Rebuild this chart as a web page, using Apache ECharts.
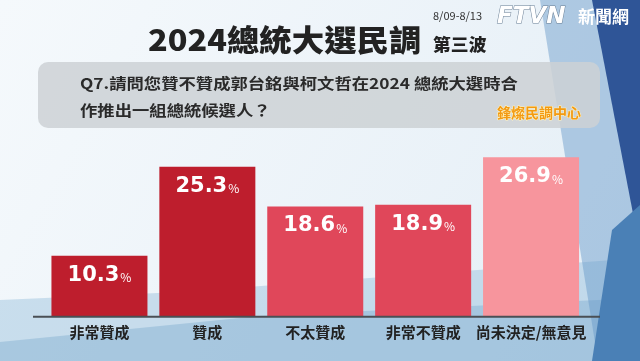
<!DOCTYPE html>
<html><head><meta charset="utf-8">
<script src="https://cdn.jsdelivr.net/npm/echarts@6/dist/echarts.min.js"></script>
<style>html,body{margin:0;padding:0;background:#eef4f9}#main{width:640px;height:361px}</style>
</head><body><div id="main"></div>
<script>
const categories = ['非常贊成', '贊成', '不太贊成', '非常不贊成', '尚未決定/無意見'];
const values = [10.3, 25.3, 18.6, 18.9, 26.9];
const barColors = ['#be1e2d', '#be1e2d', '#e0475a', '#e0475a', '#f7959d'];
const titleText = '2024總統大選民調';
const dateText = '8/09-8/13';
const waveText = '第三波';
const questionLines = ['Q7.請問您贊不贊成郭台銘與柯文哲在2024 總統大選時合', '作推出一組總統候選人？'];
const sourceText = '鋒燦民調中心';

const CJK = '"Noto Sans CJK TC","Noto Sans CJK SC",sans-serif';
const chart = echarts.init(document.getElementById('main'), null, {renderer: 'canvas'});

const bg = [
  {type: 'rect', z: -10, shape: {x: 0, y: 0, width: 640, height: 361},
   style: {fill: new echarts.graphic.LinearGradient(0, 0, 1, 1, [{offset: 0, color: '#f5f9fc'}, {offset: 1, color: '#e4eef6'}])}},
  {type: 'polygon', z: -9, shape: {points: [[0, 300], [180, 292], [640, 258], [640, 361], [0, 361]]}, style: {fill: 'rgba(150,190,220,0.45)'}},
  {type: 'polygon', z: -9, shape: {points: [[0, 342], [260, 316], [640, 298], [640, 361], [0, 361]]}, style: {fill: 'rgba(110,160,200,0.35)'}},
  {type: 'polygon', z: -8, shape: {points: [[540, 0], [640, 0], [640, 361], [598, 361]]}, style: {fill: 'rgba(100,150,200,0.45)'}},
  {type: 'polygon', z: -7, shape: {points: [[592, 0], [640, 0], [640, 250]]}, style: {fill: '#2f5597'}},
  {type: 'polygon', z: -7, shape: {points: [[612, 230], [640, 205], [640, 361], [592, 361]]}, style: {fill: '#4a80b6'}},
  {type: 'rect', z: -5, shape: {x: 38, y: 62, width: 562, height: 66, r: 10}, style: {fill: 'rgba(205,209,213,0.85)'}}
];

const texts = [
  {type: 'text', x: 148, y: 40, scaleX: 1.08, style: {text: titleText, font: '900 30px ' + CJK, fill: '#222', verticalAlign: 'middle', align: 'left'}},
  {type: 'text', x: 433, y: 16, style: {text: dateText, font: '11px ' + CJK, fill: '#333', verticalAlign: 'middle'}},
  {type: 'text', x: 433, y: 45, scaleX: 1.05, style: {text: waveText, font: '900 17px ' + CJK, fill: '#222', verticalAlign: 'middle'}},
  {type: 'text', x: 497, y: 17, style: {text: 'FTVN', font: 'italic bold 23px "DejaVu Sans",sans-serif', fill: '#ffffff', stroke: '#6a7f95', lineWidth: 1, verticalAlign: 'middle'}},
  {type: 'text', x: 578, y: 17, style: {text: '新聞網', font: 'bold 17px ' + CJK, fill: '#ffffff', verticalAlign: 'middle'}},
  {type: 'text', x: 80, y: 83, scaleX: 1.155, style: {text: questionLines[0], font: 'bold 15px ' + CJK, fill: '#2a2a2a', verticalAlign: 'middle'}},
  {type: 'text', x: 80, y: 110, scaleX: 1.155, style: {text: questionLines[1], font: 'bold 15px ' + CJK, fill: '#2a2a2a', verticalAlign: 'middle'}},
  {type: 'text', x: 497, y: 113, style: {text: sourceText, font: 'bold 14px ' + CJK, fill: '#f39a12', stroke: '#fff3c0', lineWidth: 1, verticalAlign: 'middle'}}
];

const option = {
  backgroundColor: '#eef4f9',
  animation: false,
  grid: {left: 45.5, right: 55, top: 139, bottom: 44.3},
  xAxis: {
    type: 'category', data: categories,
    axisLine: {show: false}, axisTick: {show: false},
    axisLabel: {margin: 8, fontSize: 15, fontWeight: 'bold', color: '#222', fontFamily: CJK, interval: 0}
  },
  yAxis: {type: 'value', min: 0, max: 30, show: false, splitLine: {show: false}},
  series: [{
    type: 'bar', barWidth: 96,
    data: values.map((v, i) => ({value: v, itemStyle: {color: barColors[i]}})),
    label: {
      show: true, position: 'insideTop', distance: 9,
      formatter: p => '{v|' + p.value.toFixed(1) + '}{p|%}',
      rich: {
        v: {fontSize: 21, fontWeight: 'bold', color: '#fff', fontFamily: '"DejaVu Sans",sans-serif'},
        p: {fontSize: 12, color: '#fff', fontFamily: CJK, padding: [5, 0, 0, 1]}
      }
    }
  }],
  graphic: bg.concat(texts)
};
chart.setOption(option);
const baseY = chart.convertToPixel({yAxisIndex: 0}, 0);
chart.setOption({graphic: bg.concat(texts).concat([
  {type: 'line', z: 5, shape: {x1: 33, y1: baseY, x2: 600, y2: baseY}, style: {stroke: '#4a4f55', lineWidth: 2}}
])});
</script></body></html>
